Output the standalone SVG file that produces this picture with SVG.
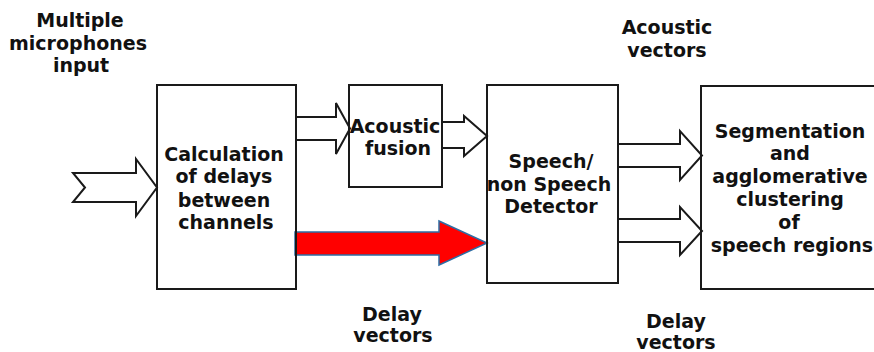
<svg xmlns="http://www.w3.org/2000/svg" width="874" height="352" viewBox="0 0 874 352">
<style>
.box{fill:none;stroke:#1a1a1a;stroke-width:2}
.arr{fill:#fff;stroke:#1a1a1a;stroke-width:2;stroke-linejoin:miter}
.red{fill:#ff0000;stroke:#2e6da4;stroke-width:1.5}
text{font-family:"DejaVu Sans",Verdana,sans-serif;font-weight:bold;font-size:19px;fill:#111;text-anchor:middle}
</style>
<rect width="874" height="352" fill="#fff"/>
<g id="connectors">
<path class="arr" d="M73,173 L136,173 L136,159 L157,187.5 L136,216 L136,202 L73,202 L85,187.5 Z"/>
<path class="arr" d="M296,117 L336,117 L336,103 L350,128.5 L336,154 L336,140 L296,140"/>
<path class="arr" d="M442,122 L464,122 L464,116 L487,136 L464,156 L464,148 L442,148"/>
<path class="red" d="M295,232 L439,232 L439,221 L487,243 L439,265 L439,255 L295,255 Z"/>
<path class="arr" d="M618,144 L680,144 L680,131 L702,155.5 L680,180 L680,167 L618,167"/>
<path class="arr" d="M618,219 L680,219 L680,207 L702,231 L680,255 L680,242 L618,242"/>
</g>
<g id="input-label">
<text x="80" y="27">Multiple</text>
<text x="78" y="50">microphones</text>
<text x="81" y="72">input</text>
</g>
<g id="calc">
<rect class="box" x="157" y="85" width="139" height="204"/>
<text x="224" y="161">Calculation</text>
<text x="224" y="183">of delays</text>
<text x="224" y="207">between</text>
<text x="226" y="229">channels</text>
</g>
<g id="fusion">
<rect class="box" x="349" y="85" width="93" height="102"/>
<text x="395" y="133">Acoustic</text>
<text x="398" y="155">fusion</text>
</g>
<g id="detector">
<rect class="box" x="487" y="85" width="131" height="198"/>
<text x="551" y="168">Speech/</text>
<text x="549" y="191">non Speech</text>
<text x="551" y="213">Detector</text>
</g>
<g id="segmentation">
<rect class="box" x="701" y="86" width="190" height="203"/>
<text x="790" y="138">Segmentation</text>
<text x="790" y="160">and</text>
<text x="790" y="183">agglomerative</text>
<text x="790" y="206">clustering</text>
<text x="789" y="229">of</text>
<text x="792" y="252">speech regions</text>
</g>
<g id="labels">
<text x="667" y="34">Acoustic</text>
<text x="667" y="57">vectors</text>
<text x="392" y="321">Delay</text>
<text x="393" y="342">vectors</text>
<text x="676" y="328">Delay</text>
<text x="676" y="349">vectors</text>
</g>
</svg>
